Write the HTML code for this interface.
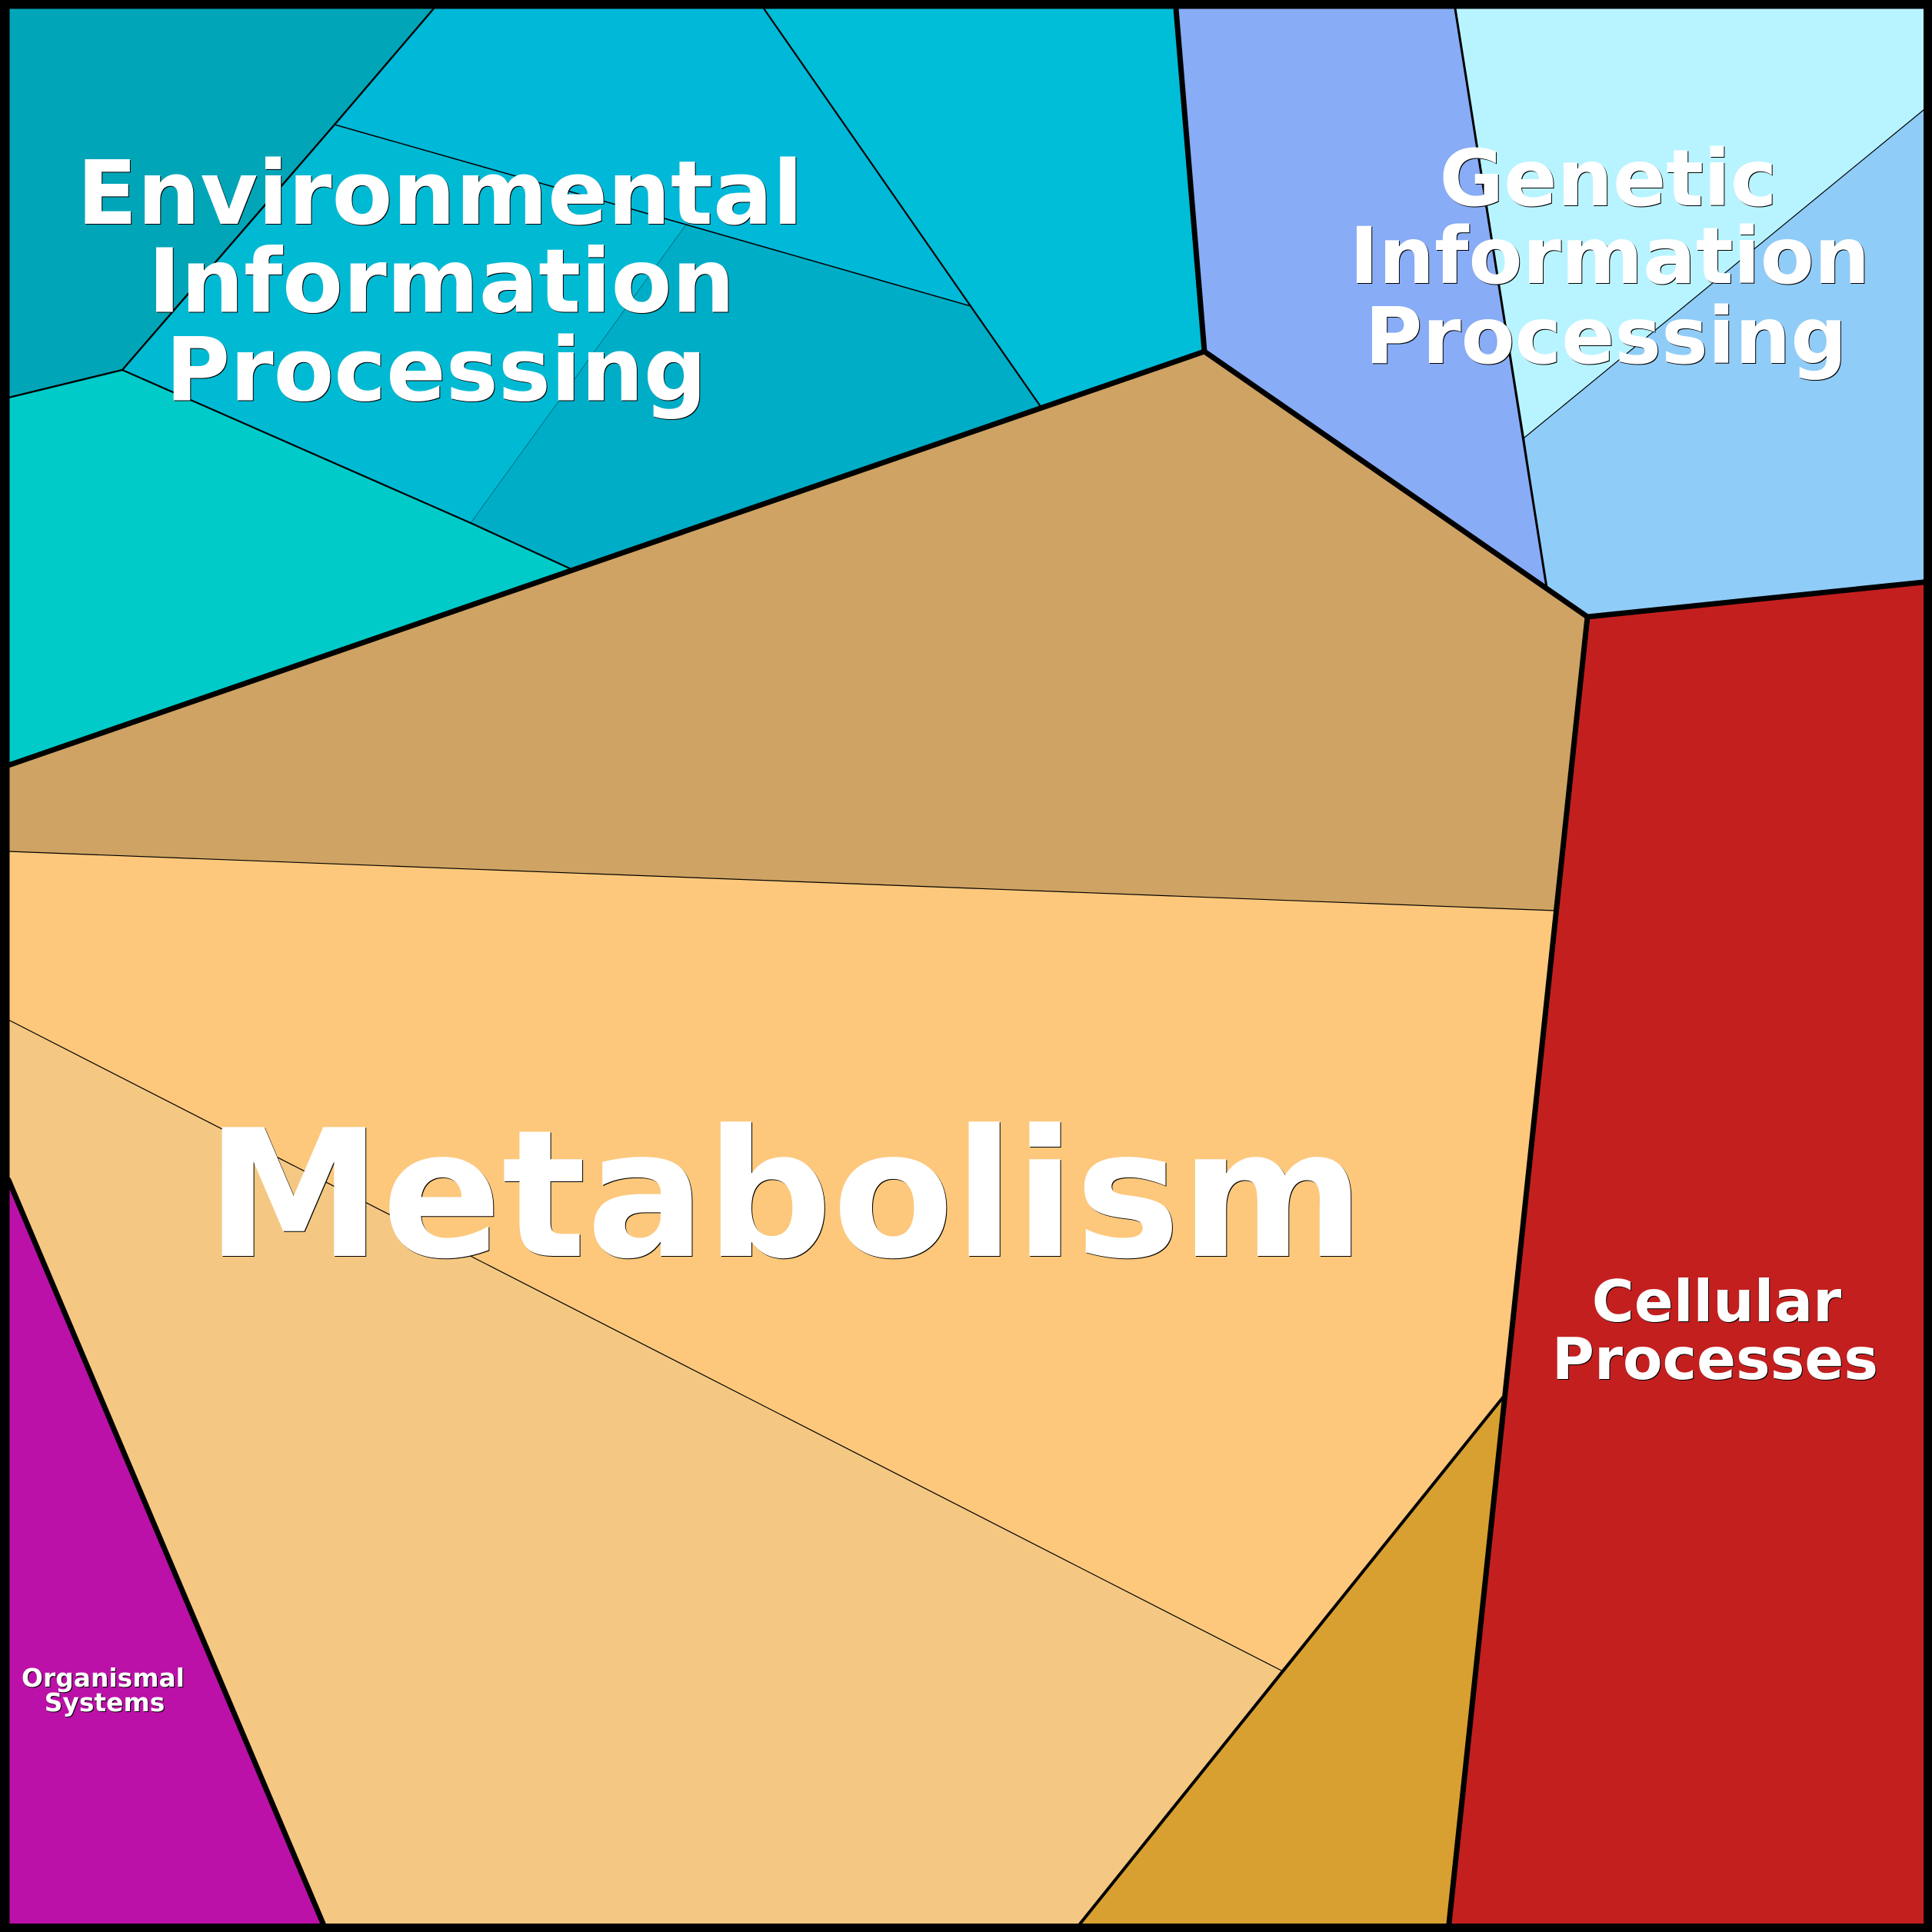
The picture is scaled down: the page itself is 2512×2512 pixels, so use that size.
<!DOCTYPE html>
<html>
<head>
<meta charset="utf-8">
<style>
html,body{margin:0;padding:0;background:#000;width:2512px;height:2512px;overflow:hidden}
svg{display:block}
text{font-family:"DejaVu Sans",sans-serif;font-weight:700;fill:#fff;text-anchor:middle;filter:drop-shadow(1px 1px 0 #000)}
.l{fill:none;stroke:#000;stroke-linecap:round;stroke-linejoin:round}
</style>
</head>
<body>
<svg width="2512" height="2512" viewBox="0 0 2512 2512" xmlns="http://www.w3.org/2000/svg">
<rect width="2512" height="2512" fill="#000"/>
<!-- Environmental -->
<polygon points="11,11 564,11 435,162 159,481 11,517" fill="#00a6b8"/>
<polygon points="564,11 993,11 1262,398 892,292 435,162" fill="#00b8d8"/>
<polygon points="993,11 1529,11 1566,457 1354,530 1262,398" fill="#00bdd8"/>
<polygon points="435,162 892,292 612,680 159,481" fill="#00bad4"/>
<polygon points="892,292 1262,398 1354,530 745,741 612,680" fill="#00adc6"/>
<polygon points="11,517 159,481 612,680 745,741 11,995" fill="#00cbc8"/>
<!-- Genetic -->
<polygon points="1529,11 1892,11 2011,764 2064,802 1566,457" fill="#88acf6"/>
<polygon points="1892,11 2501,11 2501,143 1982,569" fill="#b8f4ff"/>
<polygon points="2501,143 2501,757 2064,802 2011,764 1982,569" fill="#90ccf8"/>
<!-- Metabolism -->
<polygon points="1566,457 2064,802 2022,1184 11,1107 11,995" fill="#cea363"/>
<polygon points="11,1107 2022,1184 1954,1817 1666,2172 11,1326" fill="#fdc87c"/>
<polygon points="11,1326 1666,2172 1404.5,2501 420,2501 11,1534" fill="#f4c883"/>
<polygon points="1954,1817 1884,2501 1404.5,2501" fill="#d8a030"/>
<!-- Cellular -->
<polygon points="2064,802 2501,757 2501,2501 1884,2501" fill="#c41f1f"/>
<!-- Organismal -->
<polygon points="11,1534 420,2501 11,2501" fill="#bb11a8"/>

<!-- thin lines -->
<polyline class="l" stroke-width="0.8" style="stroke:#006674" points="892,292 612,680"/>
<polyline class="l" stroke-width="1.2" points="11,1107 2022,1184"/>
<polyline class="l" stroke-width="1.2" points="11,1326 1666,2172"/>
<polyline class="l" stroke-width="1.2" points="1982,569 2501,143"/>
<polyline class="l" stroke-width="1.5" points="435,162 892,292 1262,398"/>
<polyline class="l" stroke-width="2.4" points="564,11 435,162 159,481 11,517"/>
<polyline class="l" stroke-width="2.2" points="159,481 612,680 745,741"/>
<polyline class="l" stroke-width="2.2" points="993,11 1262,398 1354,530"/>
<polyline class="l" stroke-width="3" points="1892,11 2011,764"/>
<polyline class="l" stroke-width="4" points="1954,1817 1404.5,2501"/>
<!-- thick lines -->
<polyline class="l" stroke-width="7" points="11,995 1566,457 2064,802"/>
<polyline class="l" stroke-width="7" points="1529,11 1566,457"/>
<polyline class="l" stroke-width="7" points="2501,757 2064,802 1884,2501"/>
<polyline class="l" stroke-width="7" points="11,1534 420,2501"/>
<path fill="#000" fill-rule="evenodd" d="M0,0H2512V2512H0Z M12.5,11.5V2501H2501V11.5Z"/>

<text x="1021" y="1633" font-size="230">Metabolism</text>
<text x="572" y="291" font-size="115">Environmental</text>
<text x="574" y="405.5" font-size="115">Information</text>
<text x="567" y="520.5" font-size="114.5">Processing</text>
<text x="2091" y="267" font-size="102">Genetic</text>
<text x="2093" y="368" font-size="102">Information</text>
<text x="2088" y="472" font-size="102">Processing</text>
<text x="2232" y="1718" font-size="75.1">Cellular</text>
<text x="2230" y="1793" font-size="75.1">Processes</text>
<text x="134" y="2193" font-size="32.9">Organismal</text>
<text x="136" y="2225" font-size="32.9">Systems</text>
</svg>
</body>
</html>
